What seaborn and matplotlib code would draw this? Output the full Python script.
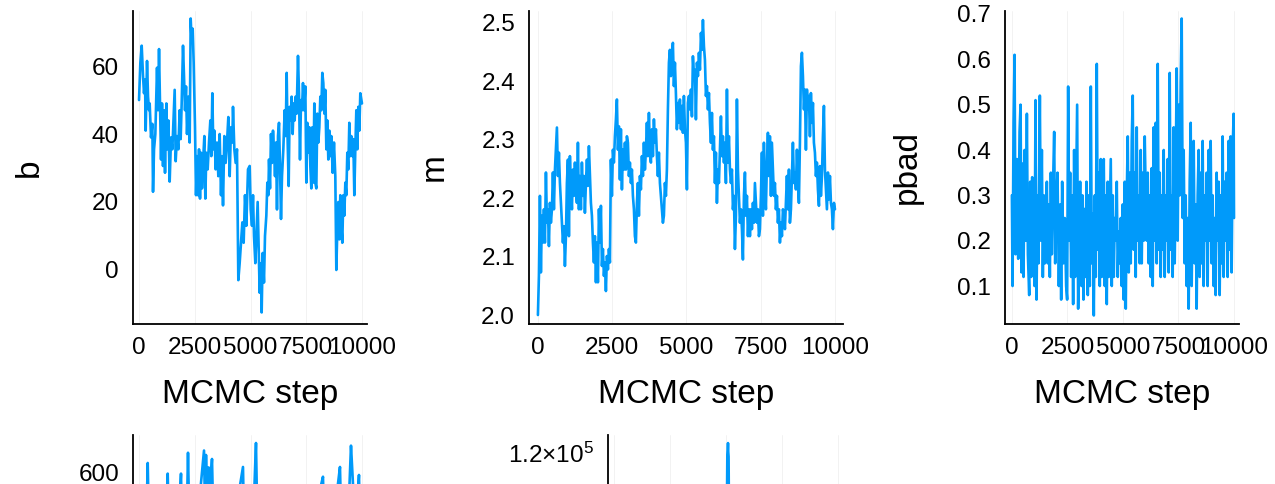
import numpy as np
import pandas as pd
import matplotlib
matplotlib.use("Agg")
import matplotlib.pyplot as plt
import seaborn as sns

# ---------------- data ----------------
b_steps = [0, 60, 120, 180, 224, 269, 299, 359, 404, 448, 478, 538, 598, 628, 673, 732, 777, 807, 852, 897,
           987, 1031, 1076, 1121, 1166, 1226, 1271, 1315, 1375, 1435, 1495, 1555, 1599, 1644, 1704, 1764, 1824,
           1868, 1913, 1973, 2018, 2063, 2108, 2152, 2212, 2272, 2317, 2362, 2407, 2451, 2511, 2556, 2601, 2646,
           2691, 2735, 2780, 2825, 2870, 2930, 2974, 3019, 3079, 3139, 3199, 3243, 3288, 3333, 3378, 3438, 3498,
           3557, 3617, 3677, 3722, 3767, 3826, 3886, 3946, 4006, 4066, 4125, 4185, 4215, 4275, 4335, 4394, 4454,
           4514, 4574, 4634, 4693, 4753, 4813,
           4888, 4963, 5008, 5067, 5112, 5157, 5217, 5277, 5321, 5366, 5411, 5456, 5501, 5546, 5605, 5650, 5710,
           5755, 5800, 5830, 5875, 5919, 5964, 6009, 6054, 6099, 6144, 6188, 6233, 6278, 6323, 6368, 6413, 6472,
           6532, 6577, 6622, 6667, 6712, 6756, 6801, 6846, 6891, 6936, 6981, 7025, 7070, 7130, 7175, 7220, 7265,
           7309, 7354, 7399, 7459, 7504, 7549, 7593, 7638, 7683, 7728, 7773, 7818, 7862, 7907, 7952, 7997, 8042,
           8087, 8132, 8176, 8221, 8266, 8311, 8356, 8401, 8445, 8490, 8535, 8580, 8625, 8685, 8744, 8804, 8849,
           8894, 8939, 8984, 9028, 9073, 9118, 9163, 9208, 9253, 9297, 9342, 9387, 9432, 9477, 9522, 9566, 9611,
           9656, 9701, 9746, 9791, 9836, 9880, 9925, 10000]
b_vals = [50, 61, 66, 57, 52, 56, 41, 61.5, 51, 47, 49, 39, 43, 23, 35.5, 40, 51, 59.5, 47, 65,
          32.5, 49, 30.6, 47, 28.6, 49, 35.5, 44, 26, 39, 35.5, 46, 53, 32, 39.4, 35.5, 47,
          38.5, 49, 66, 57, 47, 54, 40, 51, 37.5, 74, 67, 71, 61, 42, 22, 33.5, 22,
          35.5, 21, 34.5, 24, 31.5, 39.4, 21, 34.5, 29.6, 37.5, 44, 33.5, 52, 35.5, 41, 29.6, 37.5,
          27.6, 40, 22, 33.5, 19, 39.4, 31.5, 37.5, 45, 27.6, 42, 37.5, 48, 35.5, 31.5, 35.5, -3,
          2, 8, 14, 8, 22, 13,
          29.6, 30.6, 17.8, 13, 22, 10, 2, 12, 20, 6, -6.7, 2, -12.5, 5, -3.7, 10, 16,
          25.7, 22, 32.5, 24, 40, 31.5, 41, 35.5, 27.6, 37.5, 17.8, 39.4, 43.3, 30.6, 15, 27.6, 35.5,
          47, 39.4, 58, 37.5, 24.7, 48, 44, 51, 40, 49, 44, 51, 46, 63, 52, 32.5, 50,
          47, 55, 47, 54, 25.7, 43.3, 34.5, 42, 30.6, 24, 42, 25.7, 49, 25.7, 24, 46, 37.5,
          42, 51, 47, 58, 55, 46, 53, 35.5, 44, 32.5, 41, 33.5, 39.4, 28.6, 37.5, 27.6, 0,
          12, 20, 9, 22, 13, 8, 22, 16, 25.7, 22, 34.5, 29.6, 43.3, 33.5, 39.4, 33.5, 38.5,
          22, 35.5, 47, 35.5, 48, 41, 52, 49]

m_steps = [0, 34, 68, 101, 135, 169, 202, 236, 270, 303, 337, 371, 404, 438, 472, 505, 539, 573, 606, 640,
           674, 707, 741, 775, 808, 842, 875, 909, 943, 976, 1010, 1044, 1077, 1111, 1145, 1178, 1212, 1246,
           1279, 1313, 1347, 1380, 1414, 1448, 1481, 1515, 1549, 1582, 1616, 1650, 1683, 1717, 1751, 1784,
           1818, 1852, 1885, 1919, 1953, 1986, 2020, 2054, 2087, 2121, 2155, 2188, 2222, 2256, 2289, 2323,
           2357, 2390, 2424, 2457, 2491, 2525, 2558, 2592, 2626, 2659, 2693, 2727, 2760, 2794, 2828, 2861,
           2895, 2929, 2962, 2996, 3030, 3063, 3097, 3131, 3164, 3198, 3232, 3265, 3299, 3333, 3366, 3400,
           3434, 3467, 3501, 3535, 3568, 3602, 3636, 3669, 3703, 3737, 3770, 3804, 3838, 3871, 3905, 3939,
           3972, 4006, 4039, 4073, 4107, 4140, 4174, 4208, 4241, 4275, 4309, 4342, 4376, 4410, 4443, 4477,
           4511, 4544, 4578, 4612, 4645, 4679, 4713, 4746, 4780, 4814, 4847, 4881, 4915,
           4949, 4983, 5016, 5050, 5084, 5117, 5151, 5185, 5218, 5252, 5286, 5319, 5353, 5387, 5420, 5454,
           5488, 5521, 5555, 5589, 5622, 5656, 5690, 5723, 5757, 5791, 5824, 5858, 5891, 5925, 5959, 5992,
           6026, 6060, 6093, 6127, 6161, 6194, 6228, 6262, 6295, 6329, 6363, 6396, 6430, 6464, 6497, 6531,
           6565, 6598, 6632, 6666, 6699, 6733, 6767, 6800, 6834, 6868, 6901, 6935, 6969, 7002, 7036, 7070,
           7103, 7137, 7171, 7204, 7238, 7272, 7305, 7339, 7373, 7406, 7440, 7473, 7507, 7541, 7574, 7608,
           7642, 7675, 7709, 7743, 7776, 7810, 7844, 7877, 7911, 7945, 7978, 8012, 8046, 8079, 8113, 8147,
           8180, 8214, 8248, 8281, 8315, 8349, 8382, 8416, 8450, 8483, 8517, 8551, 8584, 8618, 8652, 8685,
           8719, 8753, 8786, 8820, 8854, 8887, 8921, 8955, 8988, 9022, 9056, 9089, 9123, 9157, 9190, 9224,
           9258, 9291, 9325, 9359, 9392, 9426, 9460, 9493, 9527, 9561, 9594, 9628, 9662, 9695, 9729, 9763,
           9796, 9830, 9864, 9897, 9931, 9965, 10000]
m_vals = [2.000, 2.067, 2.204, 2.073, 2.170, 2.124, 2.181, 2.124, 2.244, 2.158, 2.181, 2.118, 2.192, 2.158,
          2.181, 2.244, 2.181, 2.249, 2.283, 2.321, 2.238, 2.278, 2.226, 2.192, 2.158, 2.124, 2.152, 2.084,
          2.135, 2.226, 2.266, 2.135, 2.272, 2.215, 2.181, 2.249, 2.204, 2.261, 2.215, 2.192, 2.295, 2.181,
          2.238, 2.181, 2.261, 2.204, 2.238, 2.175, 2.226, 2.266, 2.221, 2.289, 2.238, 2.192, 2.170, 2.124,
          2.090, 2.135, 2.056, 2.124, 2.056, 2.181, 2.124, 2.187, 2.084, 2.113, 2.067, 2.090, 2.041, 2.101,
          2.078, 2.113, 2.090, 2.266, 2.204, 2.283, 2.261, 2.306, 2.335, 2.369, 2.283, 2.323, 2.232, 2.318,
          2.215, 2.283, 2.249, 2.295, 2.249, 2.306, 2.295, 2.238, 2.261, 2.226, 2.249, 2.204, 2.181, 2.135,
          2.124, 2.192, 2.226, 2.170, 2.238, 2.215, 2.272, 2.238, 2.295, 2.249, 2.283, 2.329, 2.272, 2.346,
          2.278, 2.261, 2.318, 2.272, 2.335, 2.295, 2.318, 2.272, 2.238, 2.278, 2.226, 2.204, 2.181, 2.158,
          2.170, 2.226, 2.204, 2.249, 2.352, 2.432, 2.454, 2.409, 2.443, 2.466, 2.392, 2.432, 2.380, 2.318,
          2.363, 2.329, 2.369, 2.318, 2.358, 2.312, 2.375,
          2.318, 2.295, 2.215, 2.363, 2.375, 2.352, 2.386, 2.340, 2.443, 2.409, 2.420, 2.335, 2.432, 2.409,
          2.449, 2.420, 2.483, 2.454, 2.505, 2.460, 2.437, 2.375, 2.392, 2.352, 2.380, 2.329, 2.295, 2.346,
          2.283, 2.306, 2.226, 2.278, 2.192, 2.249, 2.226, 2.283, 2.340, 2.272, 2.306, 2.261, 2.295, 2.226,
          2.386, 2.261, 2.306, 2.249, 2.226, 2.249, 2.181, 2.204, 2.113, 2.170, 2.369, 2.249, 2.204, 2.158,
          2.181, 2.147, 2.095, 2.204, 2.244, 2.170, 2.204, 2.135, 2.181, 2.135, 2.181, 2.147, 2.192, 2.158,
          2.226, 2.192, 2.158, 2.181, 2.135, 2.147, 2.204, 2.278, 2.170, 2.295, 2.215, 2.181, 2.261, 2.312,
          2.238, 2.306, 2.204, 2.295, 2.249, 2.204, 2.226, 2.181, 2.204, 2.158, 2.181, 2.124, 2.158, 2.135,
          2.181, 2.170, 2.147, 2.192, 2.238, 2.181, 2.249, 2.158, 2.181, 2.238, 2.295, 2.226, 2.244, 2.215,
          2.283, 2.226, 2.192, 2.295, 2.426, 2.449, 2.409, 2.352, 2.386, 2.283, 2.386, 2.352, 2.375, 2.306,
          2.380, 2.329, 2.363, 2.295, 2.278, 2.238, 2.261, 2.215, 2.187, 2.255, 2.204, 2.238, 2.306, 2.358,
          2.249, 2.215, 2.181, 2.244, 2.198, 2.238, 2.192, 2.181, 2.147, 2.192, 2.181]

pbad_steps = [0, 30, 75, 120, 165, 225, 285, 345, 390, 435, 480, 525, 570, 630, 675, 720, 780, 824, 869, 914,
              959, 1019, 1064, 1109, 1154, 1199, 1259, 1304, 1349, 1394, 1439, 1484, 1529, 1574, 1619, 1664,
              1709, 1754, 1799, 1844, 1904, 1949, 1994, 2054, 2114, 2174, 2219, 2263, 2323, 2383, 2443, 2488,
              2533, 2578, 2623, 2668, 2713, 2758, 2803, 2848, 2893, 2938, 2983, 3028, 3073, 3133, 3178, 3223,
              3268, 3313, 3358, 3418, 3463, 3508, 3553, 3598, 3643, 3688, 3733, 3777, 3822, 3867, 3912, 3957,
              4002, 4047, 4092, 4137, 4182, 4227, 4272, 4317, 4362, 4407, 4452, 4497, 4542, 4587, 4632, 4677,
              4722, 4767, 4812, 4857, 4902, 4947, 4992, 5037, 5082, 5127, 5172, 5217, 5261, 5306, 5351, 5396,
              5441, 5486, 5531, 5576, 5621, 5666, 5711, 5756, 5801, 5846, 5891, 5936, 5981, 6026, 6071, 6116,
              6161, 6206, 6251, 6296, 6341, 6386, 6431, 6476, 6521, 6566, 6611, 6656, 6700, 6745, 6790, 6835,
              6880, 6925, 6970, 7015, 7060, 7105, 7150, 7195, 7240, 7285, 7330, 7375, 7420, 7465, 7510, 7555,
              7600, 7645, 7690, 7735, 7780, 7825, 7870, 7915, 7960, 8005, 8050, 8095, 8140, 8185, 8230, 8274,
              8319, 8364, 8409, 8454, 8499, 8544, 8589, 8634, 8679, 8724, 8769, 8814, 8859, 8904, 8949, 8994,
              9039, 9084, 9129, 9174, 9219, 9264, 9309, 9354, 9399, 9444, 9489, 9534, 9579, 9624, 9669, 9714,
              9759, 9804, 9849, 9894, 9939, 9984, 10000]
pbad_vals = [0.30, 0.10, 0.46, 0.61, 0.17, 0.38, 0.16, 0.44, 0.50, 0.13, 0.37, 0.12, 0.40, 0.20, 0.48, 0.17,
             0.08, 0.33, 0.12, 0.34, 0.20, 0.10, 0.51, 0.07, 0.30, 0.15, 0.52, 0.20, 0.40, 0.12, 0.30, 0.15,
             0.22, 0.33, 0.15, 0.28, 0.12, 0.35, 0.17, 0.30, 0.44, 0.15, 0.27, 0.35, 0.10, 0.28, 0.07, 0.33,
             0.15, 0.25, 0.10, 0.07, 0.54, 0.20, 0.35, 0.12, 0.30, 0.06, 0.40, 0.12, 0.30, 0.50, 0.05, 0.22,
             0.33, 0.10, 0.30, 0.07, 0.27, 0.12, 0.33, 0.08, 0.30, 0.10, 0.54, 0.15, 0.26, 0.035, 0.30, 0.12,
             0.59, 0.18, 0.35, 0.10, 0.38, 0.12, 0.28, 0.38, 0.10, 0.30, 0.06, 0.33, 0.12, 0.25, 0.38, 0.10,
             0.30, 0.12, 0.25, 0.20, 0.33, 0.12, 0.22, 0.15, 0.25, 0.10, 0.28, 0.07, 0.33, 0.05, 0.30, 0.43,
             0.13, 0.35, 0.15, 0.42, 0.52, 0.18, 0.35, 0.12, 0.45, 0.20, 0.30, 0.15, 0.40, 0.15, 0.35, 0.20,
             0.43, 0.30, 0.20, 0.35, 0.15, 0.30, 0.12, 0.36, 0.10, 0.45, 0.20, 0.46, 0.15, 0.59, 0.18, 0.35,
             0.12, 0.30, 0.18, 0.40, 0.12, 0.30, 0.20, 0.38, 0.13, 0.57, 0.18, 0.30, 0.12, 0.45, 0.15, 0.35,
             0.58, 0.20, 0.50, 0.30, 0.55, 0.69, 0.25, 0.40, 0.15, 0.30, 0.10, 0.25, 0.05, 0.33, 0.46, 0.10,
             0.30, 0.42, 0.15, 0.28, 0.05, 0.30, 0.40, 0.12, 0.35, 0.15, 0.42, 0.10, 0.30, 0.20, 0.35, 0.10,
             0.40, 0.20, 0.42, 0.15, 0.30, 0.10, 0.25, 0.08, 0.35, 0.20, 0.33, 0.08, 0.30, 0.15, 0.43, 0.12,
             0.33, 0.20, 0.35, 0.12, 0.42, 0.18, 0.43, 0.13, 0.40, 0.48, 0.25]

# bottom row (only the top slice is visible in the reference)
s_steps = [0, 300, 390, 480, 900, 1200, 1287, 1370, 1700, 1883, 1950, 2100, 2197, 2280, 2600, 2915, 2960,
           3004, 3060, 3120, 3180, 3273, 3350, 3800, 4300, 4663, 4740, 5100, 5246, 5330, 6000, 6500, 7000,
           7600, 8251, 8330, 8700, 9013, 9090, 9400, 9507, 9570, 9700, 9865, 9940, 10000]
s_vals = [350, 420, 622, 380, 450, 420, 598, 400, 430, 598, 410, 380, 645, 420, 480, 650, 520, 640, 540,
          612, 560, 631, 450, 420, 500, 613, 400, 460, 667, 420, 380, 470, 400, 450, 591, 420, 480, 613,
          440, 520, 661, 600, 470, 595, 420, 400]

ll_steps = [0, 1000, 2000, 3000, 4000, 4900, 5040, 5060, 5075, 5089, 5100, 5115, 5135, 5300, 6000, 7000,
            8000, 9000, 10000]
ll_vals = [20000, 26000, 22000, 28000, 24000, 30000, 95000, 119500, 121000, 124200, 120500, 118500, 90000,
           35000, 26000, 23000, 27000, 22000, 24000]

x_ticks = [0, 2500, 5000, 7500, 10000]
b_ticks = [0, 20, 40, 60]
m_ticks = [2.0, 2.1, 2.2, 2.3, 2.4, 2.5]
m_labels = ["2.0", "2.1", "2.2", "2.3", "2.4", "2.5"]
p_ticks = [0.1, 0.2, 0.3, 0.4, 0.5, 0.6, 0.7]
s_ticks = [600]
ll_ticks = [120000]
ll_labels = [r"$1.2{\times}10^{5}$"]

# ---------------- style ----------------
sns.set_style("white")
plt.rcParams["font.family"] = ["Liberation Sans", "DejaVu Sans"]
plt.rcParams["mathtext.fontset"] = "custom"
plt.rcParams["mathtext.rm"] = "Liberation Sans"
plt.rcParams["mathtext.it"] = "Liberation Sans:italic"
plt.rcParams["mathtext.bf"] = "Liberation Sans:bold"
plt.rcParams["text.color"] = "black"
plt.rcParams["axes.labelcolor"] = "black"
plt.rcParams["xtick.color"] = "black"
plt.rcParams["ytick.color"] = "black"

LINE = "#009AFA"
W, H = 1275, 484
fig = plt.figure(figsize=(W / 100, H / 100), dpi=100)
fig.patch.set_facecolor("white")


def rect(l, r, t, b):
    return [l / W, (H - b) / H, (r - l) / W, (b - t) / H]


def style_axes(ax):
    for s in ["top", "right"]:
        ax.spines[s].set_visible(False)
    for s in ["left", "bottom"]:
        ax.spines[s].set_color("black")
        ax.spines[s].set_linewidth(1.3)
    ax.tick_params(axis="both", direction="in", length=3, width=1.0, color="black",
                   labelsize=17.5, labelcolor="black")
    ax.tick_params(axis="x", pad=9.5)
    ax.tick_params(axis="y", pad=10)
    ax.grid(False)
    ax.xaxis.grid(True, color="black", alpha=0.06, linewidth=0.6)
    ax.set_axisbelow(True)


def trace(ax, steps, vals):
    df = pd.DataFrame({"step": steps, "value": vals})
    sns.lineplot(data=df, x="step", y="value", ax=ax, color=LINE, linewidth=1.9,
                 estimator=None, sort=False, legend=False)


# top row
ax1 = fig.add_axes(rect(133, 367, 11, 324))
ax2 = fig.add_axes(rect(529, 843, 11, 324))
ax3 = fig.add_axes(rect(1005, 1239, 11, 324))
# bottom row (cut by the bottom edge of the figure)
ax4 = fig.add_axes(rect(133, 367, 435, 748))
ax5 = fig.add_axes(rect(608, 843, 435, 748))

trace(ax1, b_steps, b_vals)
trace(ax2, m_steps, m_vals)
trace(ax3, pbad_steps, pbad_vals)
trace(ax4, s_steps, s_vals)
trace(ax5, ll_steps, ll_vals)

for ax in [ax1, ax2, ax3, ax4, ax5]:
    style_axes(ax)
    ax.set_xticks(x_ticks)
    ax.set_xticklabels([str(t) for t in x_ticks])
    ax.set_xlabel("")
    ax.set_ylabel("")

# the bottom row's x tick labels lie outside the picture
for ax in [ax4, ax5]:
    ax.tick_params(axis="x", labelbottom=False)

ax1.set_xlim(-270, 10225)
ax1.set_ylim(-15.9, 76.2)
ax1.set_yticks(b_ticks)
ax1.set_yticklabels([str(t) for t in b_ticks])

ax2.set_xlim(-300, 10270)
ax2.set_ylim(1.9846, 2.5205)
ax2.set_yticks(m_ticks)
ax2.set_yticklabels(m_labels)

ax3.set_xlim(-310, 10225)
ax3.set_ylim(0.0162, 0.7066)
ax3.set_yticks(p_ticks)
ax3.set_yticklabels([f"{t:.1f}" for t in p_ticks])

ax4.set_xlim(-270, 10225)
ax4.set_ylim(-20, 685)
ax4.set_yticks(s_ticks)
ax4.set_yticklabels([str(t) for t in s_ticks])

ax5.set_xlim(-268, 10223)
ax5.set_ylim(-5000, 127625)
ax5.set_yticks(ll_ticks)
ax5.set_yticklabels(ll_labels)

for ax, lab, lx in [(ax1, "b", -0.376), (ax2, "m", -0.2516), (ax3, "pbad", -0.350)]:
    ax.set_xlabel("MCMC step", fontsize=24, color="black")
    ax.xaxis.set_label_coords(0.5, -0.176)
    ax.set_ylabel(lab, fontsize=24, color="black")
    ax.yaxis.set_label_coords(lx, 0.5)

fig.savefig("out.png", dpi=100, facecolor="white")
